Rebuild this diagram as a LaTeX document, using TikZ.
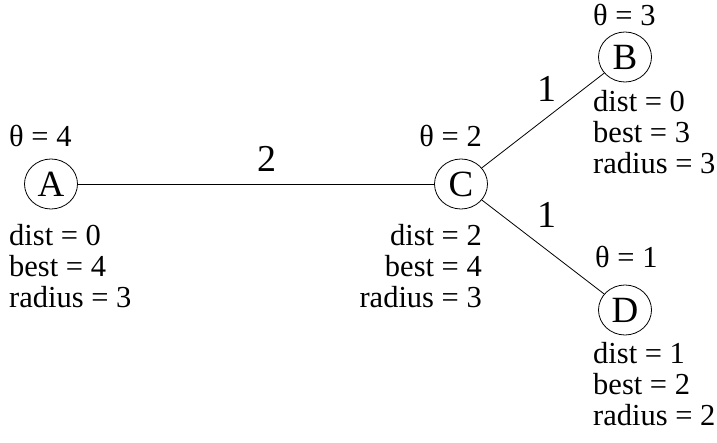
\documentclass[tikz,border=0pt]{standalone}
\usepackage{fontspec}
\setmainfont{Liberation Serif}
\usetikzlibrary{shapes.geometric}
\begin{document}
\begin{tikzpicture}[x=1pt,y=-1pt,
  vert/.style={draw,ellipse,line width=0.8pt,minimum width=53pt,minimum height=50pt,inner sep=0pt,font=\fontsize{37}{37}\selectfont},
  lbl/.style={inner sep=0pt,font=\fontsize{30.5}{30.5}\selectfont},
  lw/.style={lbl,anchor=base west},
  le/.style={lbl,anchor=base east},
  wt/.style={inner sep=0pt,anchor=base,font=\fontsize{38}{38}\selectfont},
  edge/.style={line width=0.8pt}]
\useasboundingbox (0,0) rectangle (717,443);
\node[vert] (A) at (51,184) {A};
\node[vert] (C) at (461,184) {C};
\node[vert] (B) at (625,57) {B};
\node[vert] (D) at (625,310) {D};
\draw[edge] (A) -- (C);
\draw[edge] (C) -- (B);
\draw[edge] (C) -- (D);
\node[wt] (w1) at (267,172) {2};
\node[wt] (w2) at (547,102) {1};
\node[wt] (w3) at (547,228) {1};
% A
\node[lw] (ta) at (9,147) {θ = 4};
\node[lw] (da) at (9,246) {dist = 0};
\node[lw] (ba) at (9,277) {best = 4};
\node[lw] (ra) at (9,308) {radius = 3};
% C
\node[le] (tc) at (482,147) {θ = 2};
\node[le] (dc) at (482,246) {dist = 2};
\node[le] (bc) at (482,277) {best = 4};
\node[le] (rc) at (482,308) {radius = 3};
% B
\node[lw] (tb) at (593,26) {θ = 3};
\node[lw] (db) at (593,112) {dist = 0};
\node[lw] (bb) at (593,143) {best = 3};
\node[lw] (rb) at (593,174) {radius = 3};
% D
\node[lw] (td) at (595,268) {θ = 1};
\node[lw] (dd) at (593,363) {dist = 1};
\node[lw] (bd) at (593,394) {best = 2};
\node[lw] (rd) at (593,425) {radius = 2};
\end{tikzpicture}
\end{document}
